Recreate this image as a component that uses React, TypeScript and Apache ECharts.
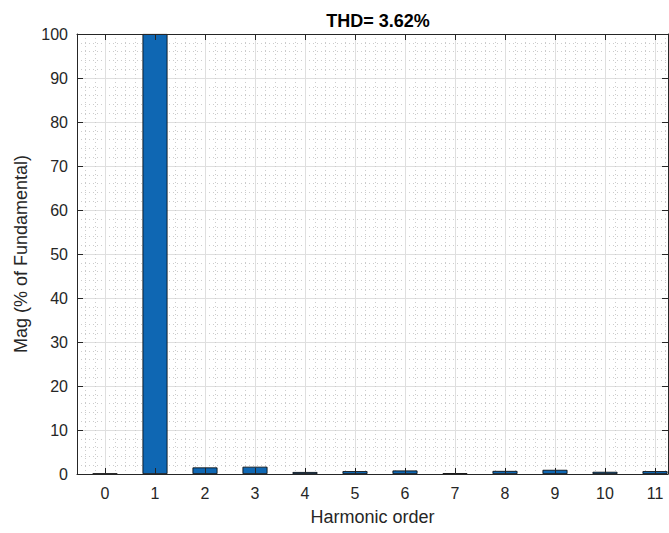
import React, { useEffect, useRef } from "react";
import * as echarts from "echarts";

const harmonicOrders = [0, 1, 2, 3, 4, 5, 6, 7, 8, 9, 10, 11];
const magnitudes = [0.1, 100, 1.5, 1.65, 0.45, 0.65, 0.8, 0.15, 0.7, 0.95, 0.5, 0.65];
const titleText = "THD= 3.62%";
const xAxisName = "Harmonic order";
const yAxisName = "Mag (% of Fundamental)";

const FONT = "'Liberation Sans', Arial, Helvetica, sans-serif";
const AXIS_COLOR = "#262626";
const CHART_W = 720;
const CHART_H = 533;

export default function App() {
  const ref = useRef<HTMLDivElement>(null);

  useEffect(() => {
    if (!ref.current) return;
    const chart = echarts.init(ref.current, undefined, { renderer: "svg" });
    const gridLine = { color: "#dfdfdf", width: 1 };
    const minorLine = { color: "#cccccc", width: 1, type: [1, 3] as any };
    const tickStyle = { show: true, inside: true, length: 6, lineStyle: { color: AXIS_COLOR, width: 1 } };
    const axisLineStyle = { show: true, onZero: false, lineStyle: { color: AXIS_COLOR, width: 1 } };
    const top = 34;
    const bottom = CHART_H - 474;
    const option: any = {
      animation: false,
      backgroundColor: "#ffffff",
      textStyle: { fontFamily: FONT },
      title: {
        text: titleText,
        left: 373,
        textAlign: "center",
        top: 7,
        textStyle: { fontFamily: FONT, fontSize: 18, fontWeight: "bold", color: "#000000" },
      },
      grid: [
        // 0: frame grid (visible box, y axis)
        { left: 77, right: CHART_W - 668, top, bottom, containLabel: false },
        // 1: minor x grid lines (value 0 at x=105, 50px per unit)
        { left: 85, right: CHART_W - 705, top, bottom, containLabel: false },
        // 2: major x axis, labels, ticks and bars
        { left: 105, right: CHART_W - 705, top, bottom, containLabel: false },
      ],
      xAxis: [
        {
          gridIndex: 0,
          type: "value",
          position: "bottom",
          min: 0,
          max: 1,
          z: 10,
          name: xAxisName,
          nameLocation: "middle",
          nameGap: 34,
          nameTextStyle: { fontFamily: FONT, fontSize: 18, color: AXIS_COLOR },
          axisLine: axisLineStyle,
          axisTick: { show: false },
          axisLabel: { show: false },
          splitLine: { show: false },
        },
        {
          gridIndex: 0,
          type: "value",
          position: "top",
          min: 0,
          max: 1,
          z: 10,
          axisLine: axisLineStyle,
          axisTick: { show: false },
          axisLabel: { show: false },
          splitLine: { show: false },
        },
        {
          gridIndex: 1,
          type: "value",
          position: "bottom",
          min: -0.4,
          max: 12,
          interval: 0.2,
          axisLine: { show: false },
          axisTick: { show: false },
          axisLabel: { show: false },
          splitLine: { show: true, lineStyle: minorLine },
        },
        {
          gridIndex: 2,
          type: "value",
          position: "bottom",
          min: 0,
          max: 12,
          interval: 1,
          axisLine: { show: false },
          axisTick: { show: false },
          axisLabel: {
            fontFamily: FONT,
            fontSize: 16,
            color: AXIS_COLOR,
            margin: 11,
            showMaxLabel: false,
          },
          splitLine: { show: true, lineStyle: gridLine },
        },
        {
          gridIndex: 2,
          type: "value",
          position: "bottom",
          min: 0,
          max: 12,
          interval: 1,
          z: 10,
          axisLine: { show: false },
          axisTick: tickStyle,
          axisLabel: { show: false },
          splitLine: { show: false },
        },
        {
          gridIndex: 2,
          type: "value",
          position: "top",
          min: 0,
          max: 12,
          interval: 1,
          z: 10,
          axisLine: { show: false },
          axisTick: tickStyle,
          axisLabel: { show: false },
          splitLine: { show: false },
        },
      ],
      yAxis: [
        {
          gridIndex: 0,
          type: "value",
          position: "left",
          min: 0,
          max: 100,
          interval: 10,
          name: yAxisName,
          nameLocation: "middle",
          nameGap: 42,
          nameTextStyle: { fontFamily: FONT, fontSize: 18, color: AXIS_COLOR },
          axisLine: axisLineStyle,
          axisTick: tickStyle,
          axisLabel: { fontFamily: FONT, fontSize: 16, color: AXIS_COLOR, margin: 9 },
          splitLine: { show: true, lineStyle: gridLine },
          minorTick: { show: false, splitNumber: 5 },
          minorSplitLine: { show: true, lineStyle: minorLine },
        },
        {
          gridIndex: 0,
          type: "value",
          position: "right",
          min: 0,
          max: 100,
          interval: 10,
          z: 10,
          axisLine: axisLineStyle,
          axisTick: tickStyle,
          axisLabel: { show: false },
          splitLine: { show: false },
        },
        { gridIndex: 1, type: "value", min: 0, max: 100, show: false },
        { gridIndex: 2, type: "value", min: 0, max: 100, show: false },
      ],
      series: [
        {
          type: "bar",
          xAxisIndex: 3,
          yAxisIndex: 3,
          barWidth: 25,
          clip: false,
          z: 2,
          data: harmonicOrders.map((h, i) => [h, magnitudes[i]]),
          itemStyle: { color: "#0f67b3", borderColor: "#000000", borderWidth: 0.8 },
        },
      ],
    };
    chart.setOption(option);
    return () => chart.dispose();
  }, []);

  return (
    <div
      style={{
        position: "absolute",
        left: 0,
        top: 0,
        width: 669,
        height: CHART_H,
        overflow: "hidden",
        background: "#fff",
      }}
    >
      <div ref={ref} style={{ width: CHART_W, height: CHART_H }} />
    </div>
  );
}
